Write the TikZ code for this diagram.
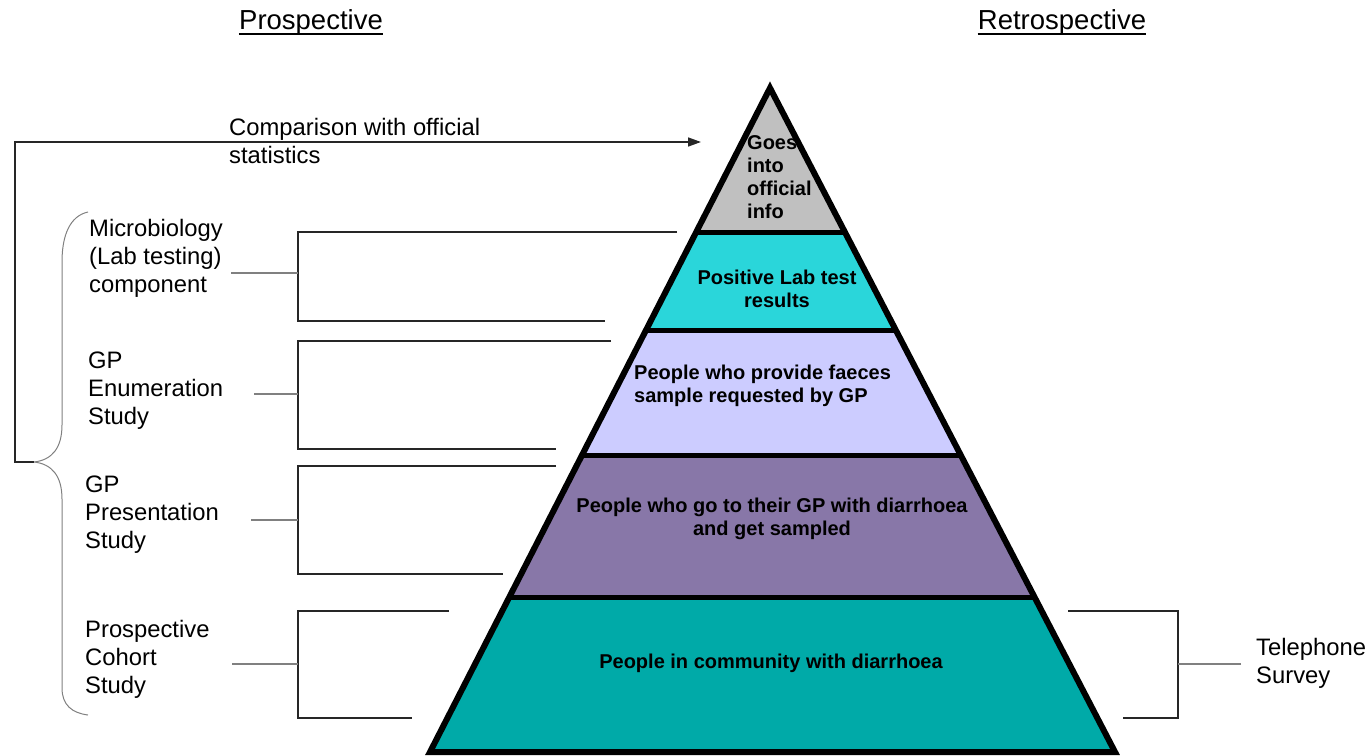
\documentclass[tikz,border=0pt]{standalone}
\usepackage{fontspec}
\setmainfont{Liberation Sans}
\usetikzlibrary{arrows.meta,calc}

\definecolor{tipgray}{HTML}{C0C0C0}
\definecolor{labcyan}{HTML}{2AD6DA}
\definecolor{faecesblue}{HTML}{CCCCFF}
\definecolor{gpmauve}{HTML}{8877A8}
\definecolor{commteal}{HTML}{00AAA8}

\tikzset{
  head/.style={font=\fontsize{27.5}{32}\selectfont, inner sep=0pt},
  lbl/.style={font=\fontsize{23.8}{28}\selectfont, align=left, anchor=west, inner sep=0pt},
  layer/.style={font=\bfseries\fontsize{20}{23}\selectfont, align=center, inner sep=0pt},
  brk/.style={line width=1.6pt, black!85},
  tie/.style={line width=1.2pt, black!50},
}

\begin{document}
\begin{tikzpicture}[x=1pt,y=-1pt]
  \useasboundingbox (0,0) rectangle (1370,755);
  % pyramid corners and band edges
  \coordinate (apex) at (770,88);
  \coordinate (bl) at (430,752);
  \coordinate (br) at (1115,752);
  \foreach \t [count=\i] in {0.2169,0.3645,0.5542,0.7666} {
    \coordinate (l\i) at ($(apex)!\t!(bl)$);
    \coordinate (r\i) at ($(apex)!\t!(br)$);
  }
  \fill[tipgray] (apex) -- (l1) -- (r1) -- cycle;
  \fill[labcyan] (l1) -- (l2) -- (r2) -- (r1) -- cycle;
  \fill[faecesblue] (l2) -- (l3) -- (r3) -- (r2) -- cycle;
  \fill[gpmauve] (l3) -- (l4) -- (r4) -- (r3) -- cycle;
  \fill[commteal] (l4) -- (bl) -- (br) -- (r4) -- cycle;
  \foreach \i in {1,...,4} {
    \draw[line width=5pt] (l\i) -- (r\i);
  }
  \draw[line width=6pt, line join=miter] (apex) -- (bl) -- (br) -- cycle;

  % layer texts
  \node[layer, align=left, anchor=west] (goes) at (747,177) {Goes\\into\\official\\info};
  \node[layer] (poslab) at (777,289) {Positive Lab test\\results};
  \node[layer, align=left, anchor=west] (faeces) at (634,386) {People who provide faeces\\sample requested by GP};
  \node[layer] (gpvisit) at (772,519) {People who go to their GP with diarrhoea\\and get sampled};
  \node[layer] (community) at (771,663) {People in community with diarrhoea};

  % headings
  \node[head] (pros) at (311,22) {Prospective};
  \node[head] (retro) at (1062,22) {Retrospective};
  \foreach \h in {pros,retro} {
    \draw[line width=2.4pt] ([yshift=-5pt]\h.base west) -- ([yshift=-5pt]\h.base east);
  }

  % study labels
  \node[lbl] (compare) at (229,141) {Comparison with official\\statistics};
  \node[lbl] (micro) at (89,258) {Microbiology\\(Lab testing)\\component};
  \node[lbl] (enum) at (88,391) {GP\\Enumeration\\Study};
  \node[lbl] (present) at (85,515) {GP\\Presentation\\Study};
  \node[lbl] (cohort) at (85,659) {Prospective\\Cohort\\Study};
  \node[lbl] (phone) at (1256,663) {Telephone\\Survey};

  % brackets round the bands
  \foreach \n/\tx/\ty/\bx/\by/\jx/\jy/\lx in {
      micro/677/232/605/321/298/273/231,
      enum/611/341/556/449/298/394/254,
      present/556/466/503/574/298/520/251,
      cohort/449/611/412/718/298/664/232,
      phone/1068/611/1123/718/1178/664/1241} {
    \coordinate (\n top) at (\tx,\ty);
    \coordinate (\n bot) at (\bx,\by);
    \coordinate (\n join) at (\jx,\jy);
    \coordinate (\n lead) at (\lx,\jy);
    \draw[brk] (\n top) -| (\n join) |- (\n bot);
    \draw[tie] (\n lead) -- (\n join);
  }

  % brace over the prospective studies
  \coordinate (bracetop) at (88,212);
  \coordinate (bracetip) at (34,462);
  \coordinate (bracebot) at (88,715);
  \draw[tie, line width=1pt] (bracetop) .. controls (70,216) and (62,235) .. (62,262)
    -- (62,425) .. controls (62,448) and (52,460) .. (bracetip)
    .. controls (52,464) and (62,476) .. (62,499)
    -- (62,688) .. controls (62,705) and (72,713) .. (bracebot);

  % comparison arrow
  \coordinate (cmptip) at (701,142);
  \draw[brk, -{Triangle[length=13pt,width=9pt]}] (bracetip) -- ++(-19,0) |- (cmptip);
\end{tikzpicture}
\end{document}
